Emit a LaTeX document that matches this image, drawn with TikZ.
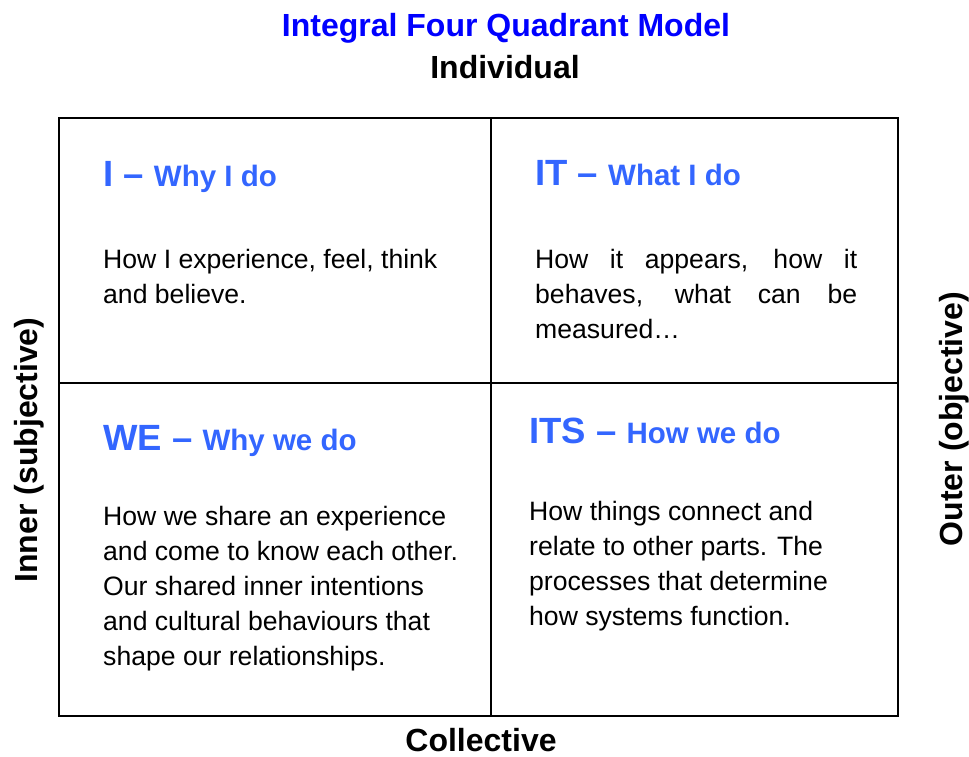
\documentclass[tikz,border=0pt]{standalone}
\usepackage{fontspec}
\setmainfont{Liberation Sans}
\definecolor{titleblue}{RGB}{0,0,255}
\definecolor{headblue}{RGB}{51,102,255}
\begin{document}
\begin{tikzpicture}[x=1pt,y=-1pt,
  frame/.style={line width=2pt, draw=black},
  axislabel/.style={inner sep=0pt, font=\fontsize{32}{32}\selectfont\bfseries},
  titlelabel/.style={inner sep=0pt, text=titleblue, font=\fontsize{32}{32}\selectfont\bfseries},
  header/.style={inner sep=0pt, anchor=base west, text=headblue, font=\bfseries},
  body/.style={inner sep=0pt, anchor=base west, font=\fontsize{26.6}{35}\selectfont}]
\useasboundingbox (0,0) rectangle (969,757);
% frame and dividers
\draw[frame] (59,118) rectangle (898,716);
\coordinate (vt) at (491,118);
\coordinate (vb) at (491,716);
\coordinate (hl) at (59,383);
\coordinate (hr) at (898,383);
\draw[frame] (vt) -- (vb);
\draw[frame] (hl) -- (hr);
% titles
\node[titlelabel, anchor=base] (title) at (506,37) {Integral Four Quadrant Model};
\node[axislabel, anchor=base] (individual) at (505,79) {Individual};
\node[axislabel, anchor=base] (collective) at (481,751) {Collective};
\node[axislabel, anchor=base, rotate=90] (inner) at (37,450) {Inner (subjective)};
\node[axislabel, anchor=base, rotate=90] (outer) at (962,419) {Outer (objective)};
% quadrant headers
\node[header] (hI) at (103,186) {{\fontsize{36.5}{36}\selectfont I – }{\fontsize{29.5}{29}\selectfont Why I do}};
\node[header] (hIT) at (535,185) {{\fontsize{36.5}{36}\selectfont IT – }{\fontsize{29.5}{29}\selectfont What I do}};
\node[header] (hWE) at (103,450) {{\fontsize{36.5}{36}\selectfont WE – }{\fontsize{29.5}{29}\selectfont Why we do}};
\node[header] (hITS) at (529,443) {{\fontsize{36.5}{36}\selectfont ITS – }{\fontsize{29.5}{29}\selectfont How we do}};
% quadrant bodies
\node[body] (bI) at (103,268) {\parbox[t]{370pt}{\raggedright How I experience, feel, think\\and believe.}};
\node[body] (bIT) at (535,268) {\parbox[t]{322pt}{How it appears, how it\linebreak behaves, what can be\linebreak measured…}};
\node[body] (bWE) at (103,525) {\parbox[t]{370pt}{\raggedright How we share an experience\\and come to know each other.\\Our shared inner intentions\\and cultural behaviours that\\shape our relationships.}};
\node[body] (bITS) at (529,520) {\parbox[t]{350pt}{\raggedright How things connect and\\relate to other parts. The\\processes that determine\\how systems function.}};
\end{tikzpicture}
\end{document}
